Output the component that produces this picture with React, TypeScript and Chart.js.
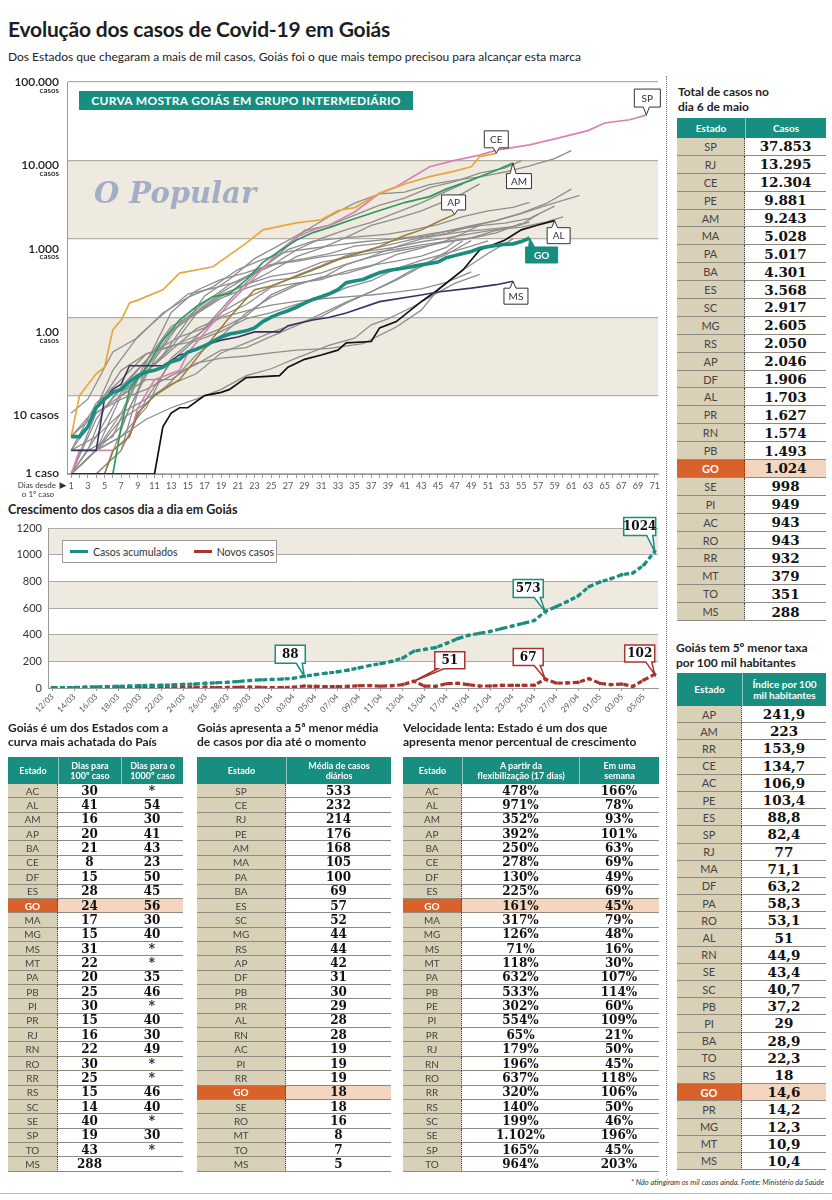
import React, { useEffect, useRef } from 'react';
import { Chart, registerables } from 'chart.js';

Chart.register(...registerables);

const SANS = 'Lato, "Open Sans", "DejaVu Sans", sans-serif';
const SERIF = '"DejaVu Serif", "Liberation Serif", serif';
const TEAL = '#178e7f';
const RED = '#a8342c';
const BAND = '#eeeae0';
const BEIGE = '#d9d0b8';
const ORANGE = '#d9622b';
const PEACH = '#f4d5c0';
const GRAY = '#8e8e8e';

// ---------- Top chart: [day since 1st case, cases] ----------
const SP = [[1,1],[2,2],[6,2],[8,3],[9,7],[11,16],[14,21],[15,35],[18,85],[20,152],[22,250],[24,420],[26,700],[28,1050],[30,1300],[32,1500],[35,2200],[38,3800],[40,4600],[44,8300],[47,10000],[50,11700],[52,13500],[56,15800],[60,20000],[63,24000],[65,30000],[68,33000],[70,37853]];
const CE = [[1,3],[2,10],[4,19],[5,23],[6,69],[7,92],[8,152],[9,165],[12,224],[14,365],[18,440],[22,880],[24,1300],[28,1600],[31,1750],[33,2300],[35,2500],[38,3800],[41,5000],[44,6200],[47,7300],[49,8300],[50,11200],[52,12304]];
const AM = [[1,1],[6,1],[7,4],[8,12],[10,23],[12,51],[14,92],[16,136],[18,183],[20,200],[22,300],[24,500],[26,700],[28,960],[30,1200],[32,1400],[35,1800],[38,2300],[41,2900],[44,3450],[46,4300],[49,5600],[51,6800],[52,7500],[54,9243]];
const AP = [[1,1],[5,1],[6,2],[8,3],[9,6],[11,10],[14,16],[17,40],[20,100],[23,224],[25,250],[28,330],[31,440],[33,540],[36,680],[38,800],[41,1100],[43,1300],[45,1650],[47,2046]];
const AL = [[1,1],[11,1],[12,4],[13,6],[14,7],[15,7],[17,10],[19,11],[20,12],[22,17],[26,18],[27,23],[29,29],[31,33],[33,38],[34,47],[37,49],[38,73],[40,88],[43,158],[45,224],[48,400],[50,720],[53,960],[55,1300],[57,1500],[59,1703]];
const MS = [[1,2],[4,2],[5,9],[6,12],[7,14],[8,24],[12,24],[13,28],[14,33],[15,35],[17,44],[19,51],[21,56],[23,65],[26,65],[27,78],[30,92],[32,100],[34,113],[38,158],[43,192],[45,210],[49,235],[52,260],[54,288]];
const RJ = [[1,1],[3,2],[6,3],[9,16],[12,33],[14,65],[17,186],[20,305],[23,558],[26,832],[29,1246],[32,1938],[35,2855],[38,3743],[41,3944],[44,4899],[47,5552],[50,6172],[53,7111],[56,8504],[59,10546],[61,13295]];
const PE = [[1,2],[3,2],[5,7],[8,16],[11,37],[14,56],[17,73],[20,166],[23,352],[26,645],[29,1284],[32,1484],[35,2006],[38,2690],[41,3298],[44,4507],[47,5358],[50,6876],[53,7951],[55,9881]];
const MA = [[1,1],[4,2],[7,10],[10,22],[13,64],[16,117],[19,206],[22,321],[25,453],[28,722],[31,1012],[34,1305],[37,1616],[40,2160],[43,2868],[46,4023],[48,5028]];
const PA = [[1,1],[4,2],[7,4],[10,20],[13,41],[16,110],[19,186],[22,262],[25,385],[28,593],[31,762],[34,1044],[37,1485],[40,1803],[43,2271],[46,3065],[48,3795],[50,5017]];
const BA = [[1,1],[4,2],[7,3],[10,7],[13,30],[16,56],[19,115],[22,176],[25,246],[28,339],[31,456],[34,608],[37,738],[40,882],[43,1046],[46,1248],[49,1468],[52,1718],[55,2120],[58,2822],[61,4301]];
const ES = [[1,1],[4,1],[7,2],[10,9],[13,27],[16,53],[19,72],[22,104],[25,194],[28,266],[31,313],[34,467],[37,599],[40,797],[43,999],[46,1175],[49,1436],[52,1709],[55,2091],[58,2667],[60,3093],[62,3568]];
const SC = [[1,2],[3,4],[6,21],[9,57],[12,109],[15,197],[18,234],[21,286],[24,432],[27,730],[30,937],[33,1010],[36,1071],[39,1145],[42,1300],[45,1516],[48,1923],[51,2265],[54,2517],[56,2917]];
const MG = [[1,1],[5,1],[8,7],[11,29],[14,83],[17,153],[20,261],[23,370],[26,498],[29,559],[32,647],[35,806],[38,873],[41,1008],[44,1154],[47,1289],[50,1477],[53,1587],[56,1827],[59,2605]];
const RS = [[1,1],[4,2],[7,6],[10,28],[13,76],[16,114],[19,195],[22,262],[25,332],[28,372],[31,500],[34,574],[37,660],[40,736],[43,836],[46,929],[49,1025],[52,1276],[55,1517],[57,2050]];
const DF = [[1,1],[4,1],[7,2],[10,26],[13,115],[16,219],[19,303],[22,371],[25,470],[28,515],[31,588],[34,641],[37,708],[40,782],[43,917],[46,1021],[49,1162],[52,1309],[55,1413],[58,1644],[60,1906]];
const PR = [[1,6],[3,9],[6,36],[9,55],[12,113],[15,179],[18,244],[21,405],[24,547],[27,685],[30,758],[33,837],[36,917],[39,981],[42,1054],[45,1098],[48,1236],[51,1322],[54,1432],[56,1627]];
const RN = [[1,1],[4,5],[7,13],[10,28],[13,68],[16,110],[19,175],[22,235],[25,295],[28,318],[31,367],[34,476],[37,585],[40,694],[43,787],[46,907],[49,1016],[52,1187],[55,1574]];
const PB = [[1,1],[4,2],[7,5],[10,8],[13,15],[16,33],[19,57],[22,113],[25,180],[28,254],[31,325],[34,362],[37,448],[40,628],[43,760],[46,946],[48,1168],[50,1493]];
const SE = [[1,1],[4,6],[7,10],[10,16],[13,16],[16,26],[19,30],[22,32],[25,35],[28,38],[32,40],[36,46],[40,75],[43,123],[45,224],[48,400],[51,650],[54,998]];
const PI = [[1,3],[4,6],[7,9],[10,12],[13,18],[16,25],[19,38],[22,41],[25,57],[28,78],[31,110],[34,156],[37,212],[40,306],[43,466],[46,631],[49,949]];
const AC = [[1,3],[4,7],[7,21],[10,34],[13,43],[16,50],[19,66],[22,96],[25,114],[28,146],[31,172],[34,238],[37,292],[40,416],[43,530],[46,653],[49,807],[51,943]];
const RO = [[1,1],[4,3],[7,6],[10,9],[13,14],[16,19],[19,35],[22,47],[25,64],[28,83],[31,102],[34,151],[37,211],[40,296],[43,442],[46,680],[48,943]];
const RR = [[1,2],[4,8],[7,16],[10,34],[13,42],[16,58],[19,103],[22,145],[25,241],[28,272],[31,301],[34,388],[37,459],[40,520],[43,601],[46,775],[47,932]];
const MT = [[1,2],[4,3],[7,11],[10,20],[13,38],[16,71],[19,99],[22,120],[25,143],[28,159],[31,172],[34,182],[37,192],[40,209],[43,230],[46,278],[49,379]];
const TO = [[1,1],[4,2],[7,3],[10,5],[13,7],[16,9],[19,12],[22,18],[25,22],[28,30],[32,44],[35,54],[37,80],[39,95],[42,136],[44,180],[47,270],[50,351]];

// ---------- Goiás day by day (12/03 .. 06/05) ----------
const DATES = ['12/03','13/03','14/03','15/03','16/03','17/03','18/03','19/03','20/03','21/03','22/03','23/03','24/03','25/03','26/03','27/03','28/03','29/03','30/03','31/03','01/04','02/04','03/04','04/04','05/04','06/04','07/04','08/04','09/04','10/04','11/04','12/04','13/04','14/04','15/04','16/04','17/04','18/04','19/04','20/04','21/04','22/04','23/04','24/04','25/04','26/04','27/04','28/04','29/04','30/04','01/05','02/05','03/05','04/05','05/05','06/05'];
const GO_CUM = [3,3,4,7,9,11,12,15,18,20,21,23,27,29,36,39,43,49,56,61,64,67,73,88,100,111,121,134,151,169,183,200,225,276,290,303,335,370,395,410,425,445,465,485,506,573,610,648,690,760,795,820,850,862,922,1024];
const GO_NEW = [3,0,1,3,2,2,1,3,3,2,1,2,4,2,7,3,4,6,7,5,3,3,6,15,12,11,10,13,17,18,14,17,25,51,14,13,32,35,25,15,15,20,20,20,21,67,37,38,42,70,35,25,30,12,60,102];

// ---------- Tables ----------
const TOTAL_STATES = ['SP','RJ','CE','PE','AM','MA','PA','BA','ES','SC','MG','RS','AP','DF','AL','PR','RN','PB','GO','SE','PI','AC','RO','RR','MT','TO','MS'];
const TOTAL_CASES = ['37.853','13.295','12.304','9.881','9.243','5.028','5.017','4.301','3.568','2.917','2.605','2.050','2.046','1.906','1.703','1.627','1.574','1.493','1.024','998','949','943','943','932','379','351','288'];
const RATE_STATES = ['AP','AM','RR','CE','AC','PE','ES','SP','RJ','MA','DF','PA','RO','AL','RN','SE','SC','PB','PI','BA','TO','RS','GO','PR','MG','MT','MS'];
const RATE_VALUES = ['241,9','223','153,9','134,7','106,9','103,4','88,8','82,4','77','71,1','63,2','58,3','53,1','51','44,9','43,4','40,7','37,2','29','28,9','22,3','18','14,6','14,2','12,3','10,9','10,4'];
const DAYS_STATES = ['AC','AL','AM','AP','BA','CE','DF','ES','GO','MA','MG','MS','MT','PA','PB','PI','PR','RJ','RN','RO','RR','RS','SC','SE','SP','TO','MS'];
const DAYS_100 = ['30','41','16','20','21','8','15','28','24','17','15','31','22','20','25','30','15','16','22','30','25','15','14','40','19','43','288'];
const DAYS_1000 = ['*','54','30','41','43','23','50','45','56','30','40','*','*','35','46','*','40','30','49','*','*','46','40','*','30','*',''];
const AVG_STATES = ['SP','CE','RJ','PE','AM','MA','PA','BA','ES','SC','MG','RS','AP','DF','PB','PR','AL','RN','AC','PI','RR','GO','SE','RO','MT','TO','MS'];
const AVG_VALUES = ['533','232','214','176','168','105','100','69','57','52','44','44','42','31','30','29','28','28','19','19','19','18','18','16','8','7','5'];
const SPEED_STATES = ['AC','AL','AM','AP','BA','CE','DF','ES','GO','MA','MG','MS','MT','PA','PB','PE','PI','PR','RJ','RN','RO','RR','RS','SC','SE','SP','TO'];
const SPEED_FLEX = ['478%','971%','352%','392%','250%','278%','130%','225%','161%','317%','126%','71%','118%','632%','533%','302%','554%','65%','179%','196%','637%','320%','140%','199%','1.102%','165%','964%'];
const SPEED_WEEK = ['166%','78%','93%','101%','63%','69%','49%','69%','45%','79%','48%','16%','30%','107%','114%','60%','109%','21%','50%','45%','118%','106%','50%','46%','196%','45%','203%'];

// ---------- Axis labels ----------
const Y_LABEL_VALUES = [100000, 10000, 1000, 100, 10, 1];
const Y_LABEL_MAIN = ['100.000', '10.000', '1.000', '1.00', '10 casos', '1 caso'];
const Y_LABEL_SUB = ['casos', 'casos', 'casos', 'casos', '', ''];

function drawCallout(ctx: CanvasRenderingContext2D, px: number, py: number, cx: number, cy: number, w: number, h: number, fill: string, stroke: string, lw: number, text: string, color: string, font: string) {
  const l = cx - w / 2, r = cx + w / 2, t = cy - h / 2, b = cy + h / 2;
  const bx = Math.min(Math.max(px, l + 6), r - 6);
  ctx.save();
  ctx.beginPath();
  if (py > b) {
    ctx.moveTo(l, t); ctx.lineTo(r, t); ctx.lineTo(r, b); ctx.lineTo(bx + 3, b); ctx.lineTo(px, py); ctx.lineTo(bx - 3, b); ctx.lineTo(l, b); ctx.closePath();
  } else {
    ctx.moveTo(l, t); ctx.lineTo(bx - 3, t); ctx.lineTo(px, py); ctx.lineTo(bx + 3, t); ctx.lineTo(r, t); ctx.lineTo(r, b); ctx.lineTo(l, b); ctx.closePath();
  }
  ctx.fillStyle = fill; ctx.fill();
  ctx.lineWidth = lw; ctx.strokeStyle = stroke; ctx.lineJoin = 'miter'; ctx.stroke();
  ctx.fillStyle = color; ctx.font = font; ctx.textAlign = 'center'; ctx.textBaseline = 'middle';
  ctx.fillText(text, cx, cy + 0.5);
  ctx.restore();
}

const HIGHLIGHT = [
  { name: 'GO', data: GO_CUM.map((v, i) => [i + 1, v]), color: TEAL, width: 3.6 },
  { name: 'MS', data: MS, color: '#3d3063', width: 1.6 },
  { name: 'AL', data: AL, color: '#111111', width: 1.7 },
  { name: 'AP', data: AP, color: '#9c7a36', width: 1.5 },
  { name: 'AM', data: AM, color: '#2f9a5b', width: 1.7 },
  { name: 'CE', data: CE, color: '#e9a73b', width: 1.7 },
  { name: 'SP', data: SP, color: '#d982b4', width: 1.7 },
];
const GRAY_SERIES = [RJ, PE, MA, PA, BA, ES, SC, MG, RS, DF, PR, RN, PB, SE, PI, AC, RO, RR, MT, TO];

const TOP_CALLOUTS = [
  { name: 'SP', dx: 1, dy: -17, w: 26, h: 18 },
  { name: 'CE', dx: 0, dy: -14, w: 24, h: 17 },
  { name: 'AM', dx: 6, dy: 18, w: 25, h: 15 },
  { name: 'AP', dx: -1, dy: -12, w: 24, h: 15 },
  { name: 'AL', dx: 4, dy: 15, w: 23, h: 16 },
  { name: 'GO', dx: 12, dy: 17, w: 32, h: 16 },
  { name: 'MS', dx: 3, dy: 15, w: 24, h: 16 },
];
const Y_SHIFT = [0, 5, 10, 15, 20, -1];

function TopChart() {
  const ref = useRef<HTMLCanvasElement>(null);
  useEffect(() => {
    const datasets: any[] = [
      ...HIGHLIGHT.map((s) => ({
        label: s.name,
        data: s.data.map(([d, v]) => ({ x: d, y: v })),
        borderColor: s.color, borderWidth: s.width, pointRadius: 0, tension: 0,
      })),
      ...GRAY_SERIES.map((arr, i) => ({
        label: 'g' + i,
        data: arr.map(([d, v]) => ({ x: d, y: v })),
        borderColor: GRAY, borderWidth: 1.3, pointRadius: 0, tension: 0,
      })),
    ];
    const bands = {
      id: 'bands',
      beforeDraw(chart: any) {
        const { ctx, chartArea } = chart;
        const y = chart.scales.y;
        ctx.save();
        ctx.fillStyle = BAND;
        [[1000, 10000], [10, 100]].forEach(([a, b]) => {
          const y1 = y.getPixelForValue(b), y2 = y.getPixelForValue(a);
          ctx.fillRect(chartArea.left, y1, chartArea.right - chartArea.left, y2 - y1);
        });
        ctx.restore();
      },
    };
    const deco = {
      id: 'deco',
      afterDraw(chart: any) {
        const { ctx } = chart;
        const y = chart.scales.y;
        ctx.save();
        ctx.fillStyle = '#222';
        ctx.textAlign = 'right';
        ctx.textBaseline = 'middle';
        Y_LABEL_VALUES.forEach((v, i) => {
          const py = y.getPixelForValue(v) + Y_SHIFT[i];
          ctx.font = `600 12px ${SANS}`;
          ctx.fillText(Y_LABEL_MAIN[i], 59, py);
          if (Y_LABEL_SUB[i]) {
            ctx.font = `600 8px ${SANS}`;
            ctx.fillText(Y_LABEL_SUB[i], 59, py + 8);
          }
        });
        const base = chart.scales.x.bottom - 22 + 11;
        ctx.font = `8px ${SANS}`;
        ctx.fillStyle = '#333';
        ctx.fillText('Dias desde', 56, base);
        ctx.textAlign = 'center';
        ctx.fillText('o 1º caso', 38, base + 9);
        ctx.font = `9px ${SANS}`;
        ctx.fillText('▶', 63, base);
        TOP_CALLOUTS.forEach((c) => {
          const idx = HIGHLIGHT.findIndex((h) => h.name === c.name);
          const meta = chart.getDatasetMeta(idx);
          const pt = meta.data[meta.data.length - 1];
          const isGo = c.name === 'GO';
          drawCallout(ctx, pt.x, pt.y, pt.x + c.dx, pt.y + c.dy, c.w, c.h,
            isGo ? TEAL : '#fff', isGo ? TEAL : '#333', 1,
            c.name, isGo ? '#fff' : '#333', `${isGo ? '700 ' : ''}10px ${SANS}`);
        });
        ctx.restore();
      },
    };
    const chart = new Chart(ref.current as HTMLCanvasElement, {
      type: 'line',
      data: { datasets },
      options: {
        animation: false,
        responsive: false,
        maintainAspectRatio: false,
        layout: { padding: { left: 7, right: 7, top: 12, bottom: 4 } },
        plugins: { legend: { display: false }, tooltip: { enabled: false } },
        scales: {
          x: {
            type: 'linear', min: 0.5, max: 71.4,
            afterBuildTicks: (s: any) => { s.ticks = Array.from({ length: 71 }, (_, i) => ({ value: i + 1 })); },
            afterFit: (s: any) => { s.height = 22; },
            grid: { drawOnChartArea: false, drawTicks: true, tickLength: 4, color: '#999' },
            border: { display: true, color: '#999' },
            ticks: {
              autoSkip: false, maxRotation: 0, minRotation: 0, padding: 3,
              font: { family: SANS, size: 9 }, color: '#555',
              callback: (v: any) => (Number(v) % 2 === 1 ? String(v) : ''),
            },
          },
          y: {
            type: 'logarithmic', min: 1, max: 100000,
            afterBuildTicks: (s: any) => { s.ticks = [1, 10, 100, 1000, 10000, 100000].map((v) => ({ value: v })); },
            afterFit: (s: any) => { s.width = 60; },
            ticks: { display: false },
            grid: { drawTicks: false, color: '#b3aea3', lineWidth: 1.2 },
            border: { display: true, color: '#999' },
          },
        },
      } as any,
      plugins: [bands, deco],
    });
    return () => chart.destroy();
  }, []);
  return <canvas ref={ref} width={665} height={430} style={{ position: 'absolute', left: 0, top: 70, width: 665, height: 430 }} />;
}

const CUM_CALLOUTS = [{ i: 23, dx: -14, dy: -22 }, { i: 45, dx: -17, dy: -23 }, { i: 55, dx: -15, dy: -25 }];
const NEW_CALLOUTS = [{ i: 33, dx: 36, dy: -21 }, { i: 45, dx: -17, dy: -22 }, { i: 55, dx: -15, dy: -21 }];

function DailyChart() {
  const ref = useRef<HTMLCanvasElement>(null);
  useEffect(() => {
    const bands = {
      id: 'bands2',
      beforeDraw(chart: any) {
        const { ctx, chartArea } = chart;
        const y = chart.scales.y;
        ctx.save();
        ctx.fillStyle = BAND;
        [[1000, 1200], [600, 800], [200, 400]].forEach(([a, b]) => {
          const y1 = y.getPixelForValue(b), y2 = y.getPixelForValue(a);
          ctx.fillRect(chartArea.left, y1, chartArea.right - chartArea.left, y2 - y1);
        });
        ctx.restore();
      },
    };
    const callouts = {
      id: 'callouts2',
      afterDatasetsDraw(chart: any) {
        const { ctx } = chart;
        const m0 = chart.getDatasetMeta(0), m1 = chart.getDatasetMeta(1);
        CUM_CALLOUTS.forEach((c) => {
          const pt = m0.data[c.i];
          const t = String(GO_CUM[c.i]);
          drawCallout(ctx, pt.x, pt.y, pt.x + c.dx, pt.y + c.dy, t.length > 3 ? 32 : 30, 18, '#fff', TEAL, 1.5, t, '#111', `700 12px ${SERIF}`);
        });
        NEW_CALLOUTS.forEach((c) => {
          const pt = m1.data[c.i];
          const t = String(GO_NEW[c.i]);
          drawCallout(ctx, pt.x, pt.y, pt.x + c.dx, pt.y + c.dy, 30, 17, '#fff', RED, 1.5, t, '#111', `700 12px ${SERIF}`);
        });
      },
    };
    const chart = new Chart(ref.current as HTMLCanvasElement, {
      type: 'line',
      data: {
        datasets: [
          {
            label: 'Casos acumulados', data: GO_CUM.map((v, i) => ({ x: i, y: v })),
            borderColor: TEAL, backgroundColor: TEAL, borderWidth: 3.2, borderDash: [5, 2.5],
            pointRadius: 1.8, pointBorderWidth: 0, pointBackgroundColor: TEAL, tension: 0,
          },
          {
            label: 'Novos casos', data: GO_NEW.map((v, i) => ({ x: i, y: v })),
            borderColor: RED, backgroundColor: RED, borderWidth: 3.2, borderDash: [5, 2.5],
            pointRadius: 1.8, pointBorderWidth: 0, pointBackgroundColor: RED, tension: 0,
          },
        ],
      },
      options: {
        animation: false,
        responsive: false,
        maintainAspectRatio: false,
        layout: { padding: { left: 8, right: 7, top: 13, bottom: 12 } },
        plugins: { legend: { display: false }, tooltip: { enabled: false } },
        scales: {
          x: {
            type: 'linear', min: -0.4, max: 55.3,
            afterBuildTicks: (s: any) => { s.ticks = DATES.map((_, i) => i).filter((i) => i % 2 === 0).map((v) => ({ value: v })); },
            afterFit: (s: any) => { s.height = 30; },
            grid: { drawOnChartArea: false, drawTicks: true, tickLength: 3, color: '#999' },
            border: { display: true, color: '#999' },
            ticks: {
              autoSkip: false, maxRotation: 45, minRotation: 45, padding: 1,
              font: { family: SANS, size: 8 }, color: '#555',
              callback: (v: any) => DATES[Number(v)] ?? '',
            },
          },
          y: {
            min: 0, max: 1200,
            afterFit: (s: any) => { s.width = 40; },
            ticks: { stepSize: 200, padding: 6, font: { family: SANS, size: 11 }, color: '#333', callback: (v: any) => String(v) },
            grid: { drawTicks: false, color: '#aaa' },
            border: { display: true, color: '#999' },
          },
        },
      } as any,
      plugins: [bands, callouts],
    });
    return () => chart.destroy();
  }, []);
  return <canvas ref={ref} width={665} height={215} style={{ position: 'absolute', left: 0, top: 515, width: 665, height: 215 }} />;
}

function DataTable(props: { x: number; y: number; widths: number[]; headH: number; rowH: number; head: string[]; cols: string[][]; valSize: number; stateSize: number; headSize: number }) {
  const { x, y, widths, headH, rowH, head, cols, valSize, stateSize, headSize } = props;
  const n = cols[0].length;
  return (
    <div style={{ position: 'absolute', left: x, top: y }}>
      <div style={{ display: 'flex', height: headH }}>
        {head.map((h, i) => (
          <div key={i} style={{
            width: widths[i], boxSizing: 'border-box', background: TEAL, color: '#fff', fontFamily: SANS,
            fontWeight: 700, fontSize: headSize, lineHeight: 1.1, display: 'flex', alignItems: 'center',
            justifyContent: 'center', textAlign: 'center', whiteSpace: 'pre-line',
            borderLeft: i ? '1px solid #8fcac1' : 'none',
          }}>{h}</div>
        ))}
      </div>
      {Array.from({ length: n }).map((_, r) => {
        const hl = cols[0][r] === 'GO';
        return (
          <div key={r} style={{ display: 'flex', height: rowH }}>
            {cols.map((c, i) => (
              <div key={i} style={{
                width: widths[i], boxSizing: 'border-box', borderBottom: '1px solid #8e8a80',
                borderRight: i === 0 ? '1px dotted #444' : 'none',
                background: i === 0 ? (hl ? ORANGE : BEIGE) : (hl ? PEACH : '#fff'),
                color: i === 0 ? (hl ? '#fff' : '#444') : '#111',
                fontFamily: i === 0 ? SANS : SERIF, fontWeight: i === 0 ? (hl ? 700 : 400) : 700,
                fontSize: i === 0 ? stateSize : valSize, display: 'flex', alignItems: 'center', justifyContent: 'center',
                whiteSpace: 'nowrap',
              }}>{c[r]}</div>
            ))}
          </div>
        );
      })}
    </div>
  );
}

const titleStyle: React.CSSProperties = { position: 'absolute', fontFamily: SANS, fontWeight: 700, fontSize: 12, lineHeight: '14px', color: '#222' };

export default function App() {
  return (
    <div style={{ position: 'absolute', left: 0, top: 0, width: 832, height: 1200, background: '#fff', overflow: 'hidden' }}>
      <div style={{ position: 'absolute', left: 8, top: 17, fontFamily: SANS, fontWeight: 700, fontSize: 21, lineHeight: '24px', color: '#1e1e1e', letterSpacing: -0.2 }}>
        Evolução dos casos de Covid-19 em Goiás
      </div>
      <div style={{ position: 'absolute', left: 8, top: 49, fontFamily: SANS, fontSize: 12, lineHeight: '15px', color: '#222' }}>
        Dos Estados que chegaram a mais de mil casos, Goiás foi o que mais tempo precisou para alcançar esta marca
      </div>

      <TopChart />
      <div style={{ position: 'absolute', left: 79, top: 91, width: 334, height: 19, background: TEAL, color: '#fff', fontFamily: SANS, fontWeight: 700, fontSize: 12, lineHeight: '19px', textAlign: 'center', letterSpacing: 0.3 }}>
        CURVA MOSTRA GOIÁS EM GRUPO INTERMEDIÁRIO
      </div>
      <div style={{ position: 'absolute', left: 94, top: 176, fontFamily: SERIF, fontWeight: 700, fontStyle: 'italic', fontSize: 29, lineHeight: '34px', color: '#a3adc6' }}>
        O Popular
      </div>

      <div style={{ position: 'absolute', left: 8, top: 502, fontFamily: SANS, fontWeight: 700, fontSize: 12.5, lineHeight: '15px', color: '#222' }}>
        Crescimento dos casos dia a dia em Goiás
      </div>
      <DailyChart />
      <div style={{ position: 'absolute', left: 62, top: 540, width: 215, height: 23, boxSizing: 'border-box', border: '1px solid #9b9b9b', background: '#fff', display: 'flex', alignItems: 'center', fontFamily: SANS, fontSize: 10.5, color: '#333', whiteSpace: 'nowrap' }}>
        <span style={{ display: 'inline-block', flex: 'none', width: 18, height: 3, background: TEAL, marginLeft: 7, marginRight: 5 }} />
        <span style={{ flex: 'none' }}>Casos acumulados</span>
        <span style={{ display: 'inline-block', flex: 'none', width: 18, height: 3, background: RED, marginLeft: 16, marginRight: 5 }} />
        <span style={{ flex: 'none' }}>Novos casos</span>
      </div>

      <div style={{ ...titleStyle, left: 8, top: 721 }}>Goiás é um dos Estados com a<br />curva mais achatada do País</div>
      <DataTable x={8} y={757} widths={[50, 63, 62]} headH={27} rowH={14.37} head={['Estado', 'Dias para\n100º caso', 'Dias para o\n1000º caso']} cols={[DAYS_STATES, DAYS_100, DAYS_1000]} valSize={12} stateSize={10} headSize={9} />

      <div style={{ ...titleStyle, left: 197, top: 721 }}>Goiás apresenta a 5ª menor média<br />de casos por dia até o momento</div>
      <DataTable x={197} y={757} widths={[89, 105]} headH={27} rowH={14.37} head={['Estado', 'Média de casos\ndiários']} cols={[AVG_STATES, AVG_VALUES]} valSize={12} stateSize={10} headSize={9} />

      <div style={{ ...titleStyle, left: 403, top: 721 }}>Velocidade lenta: Estado é um dos que<br />apresenta menor percentual de crescimento</div>
      <DataTable x={403} y={757} widths={[59, 117, 80]} headH={27} rowH={14.37} head={['Estado', 'A partir da\nflexibilização (17 dias)', 'Em uma\nsemana']} cols={[SPEED_STATES, SPEED_FLEX, SPEED_WEEK]} valSize={12} stateSize={10} headSize={9} />

      <div style={{ position: 'absolute', left: 666, top: 76, width: 0, height: 1100, borderLeft: '1px dotted #777' }} />

      <div style={{ ...titleStyle, left: 678, top: 84, fontSize: 12, lineHeight: '15px' }}>Total de casos no<br />dia 6 de maio</div>
      <DataTable x={677} y={118} widths={[68, 81]} headH={20} rowH={17.9} head={['Estado', 'Casos']} cols={[TOTAL_STATES, TOTAL_CASES]} valSize={13.5} stateSize={11} headSize={10} />

      <div style={{ ...titleStyle, left: 676, top: 640, fontSize: 12, lineHeight: '15px' }}>Goiás tem 5º menor taxa<br />por 100 mil habitantes</div>
      <DataTable x={677} y={673} widths={[65, 84]} headH={33} rowH={17.2} head={['Estado', 'Índice por 100\nmil habitantes']} cols={[RATE_STATES, RATE_VALUES]} valSize={13.5} stateSize={11} headSize={10} />

      <div style={{ position: 'absolute', left: 560, top: 1178, width: 264, textAlign: 'right', fontFamily: SANS, fontStyle: 'italic', fontSize: 7.5, color: '#333' }}>
        * Não atingiram os mil casos ainda. Fonte: Ministério da Saúde
      </div>
      <div style={{ position: 'absolute', left: 0, top: 1193, width: 832, height: 0, borderTop: '1px solid #bbb' }} />
    </div>
  );
}
